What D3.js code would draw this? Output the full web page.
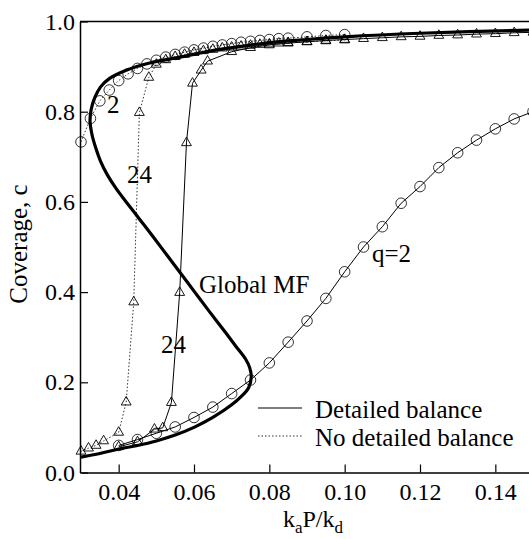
<!DOCTYPE html>
<html>
<head>
<meta charset="utf-8">
<script src="https://cdn.jsdelivr.net/npm/d3@7"></script>
<style>
  body { margin: 0; background: #fff; }
  text { font-family: "Liberation Serif", "Times New Roman", serif; fill: #000; }
</style>
</head>
<body>
<div id="chart"></div>
<script>
// Tick labels
const xTicks = [0.04, 0.06, 0.08, 0.10, 0.12, 0.14];
const yTicks = [0.0, 0.2, 0.4, 0.6, 0.8, 1.0];

// Global mean-field curve (S-shaped)
const mfP = [0.030, 0.035, 0.040, 0.045, 0.050, 0.055, 0.060, 0.065, 0.070, 0.0725, 0.0745, 0.0752, 0.0748, 0.0738, 0.0711, 0.0675, 0.0638, 0.0602, 0.0566, 0.0530, 0.0494, 0.0457, 0.0420, 0.0393, 0.0370, 0.0352, 0.0339, 0.0329, 0.0324, 0.0327, 0.0336, 0.0352, 0.0376, 0.042, 0.0482, 0.057, 0.066, 0.079, 0.090, 0.100, 0.120, 0.150];
const mfC = [0.034, 0.042, 0.052, 0.060, 0.070, 0.083, 0.100, 0.122, 0.150, 0.168, 0.188, 0.212, 0.232, 0.250, 0.280, 0.320, 0.360, 0.400, 0.440, 0.480, 0.520, 0.560, 0.600, 0.630, 0.660, 0.690, 0.720, 0.750, 0.780, 0.805, 0.830, 0.855, 0.874, 0.892, 0.908, 0.922, 0.937, 0.952, 0.960, 0.966, 0.974, 0.981];

// q=2, detailed balance (solid, circles)
const q2dbP = [0.040, 0.045, 0.050, 0.055, 0.060, 0.065, 0.070, 0.075, 0.080, 0.085, 0.090, 0.095, 0.100, 0.105, 0.110, 0.115, 0.120, 0.125, 0.130, 0.135, 0.140, 0.145, 0.150];
const q2dbC = [0.060, 0.073, 0.087, 0.101, 0.122, 0.145, 0.175, 0.205, 0.243, 0.289, 0.336, 0.386, 0.445, 0.500, 0.545, 0.597, 0.634, 0.676, 0.709, 0.737, 0.762, 0.784, 0.800];

// q=2, no detailed balance (dotted, circles)
const q2ndP = [0.030, 0.0325, 0.035, 0.0375, 0.040, 0.0425, 0.045, 0.0475, 0.050, 0.0525, 0.055, 0.0575, 0.060, 0.0625, 0.065, 0.0675, 0.070, 0.0725, 0.075, 0.0775, 0.080, 0.0825, 0.085, 0.090, 0.095, 0.100];
const q2ndC = [0.733, 0.785, 0.824, 0.848, 0.869, 0.884, 0.896, 0.906, 0.914, 0.921, 0.927, 0.932, 0.937, 0.941, 0.945, 0.948, 0.951, 0.954, 0.956, 0.958, 0.960, 0.962, 0.963, 0.966, 0.969, 0.971];

// q=24, detailed balance (solid, triangles)
const q24dbP = [0.040, 0.045, 0.0495, 0.0517, 0.054, 0.0562, 0.058, 0.0596, 0.0619, 0.0636, 0.070, 0.075, 0.080, 0.085, 0.090, 0.095, 0.100, 0.105, 0.110, 0.115, 0.120, 0.125, 0.130, 0.135, 0.140, 0.145, 0.150];
const q24dbC = [0.057, 0.068, 0.096, 0.099, 0.155, 0.399, 0.731, 0.863, 0.892, 0.912, 0.933, 0.942, 0.948, 0.952, 0.955, 0.958, 0.960, 0.962, 0.964, 0.966, 0.967, 0.969, 0.970, 0.972, 0.973, 0.975, 0.976];

// q=24, no detailed balance (dotted, triangles)
const q24ndP = [0.030, 0.032, 0.034, 0.036, 0.040, 0.042, 0.044, 0.0455, 0.048, 0.050, 0.0525, 0.055, 0.0575, 0.060, 0.0625, 0.065, 0.0675, 0.070, 0.0725, 0.075, 0.0775, 0.080, 0.0825, 0.085, 0.090, 0.095, 0.100];
const q24ndC = [0.047, 0.054, 0.060, 0.070, 0.089, 0.156, 0.378, 0.798, 0.876, 0.905, 0.915, 0.922, 0.927, 0.931, 0.935, 0.938, 0.941, 0.943, 0.945, 0.947, 0.949, 0.950, 0.952, 0.953, 0.955, 0.957, 0.959];

const zip = (a, b) => a.map((v, i) => [v, b[i]]);

const width = 529, height = 539;
const svg = d3.select("#chart").append("svg")
    .attr("width", width)
    .attr("height", height);

const x = d3.scaleLinear().domain([0.03, 0.15]).range([81, 533]);
const y = d3.scaleLinear().domain([0, 1]).range([472.5, 21.5]);

const line = d3.line().x(d => x(d[0])).y(d => y(d[1]));

// Axes
const xAxis = svg.append("g")
    .attr("transform", `translate(0,${y(0)})`)
    .call(d3.axisBottom(x).tickValues(xTicks).tickFormat(d3.format(".2f"))
        .tickSizeInner(-8).tickSizeOuter(0).tickPadding(10));

const yAxis = svg.append("g")
    .attr("transform", `translate(${x(0.03) - 1},0)`)
    .call(d3.axisLeft(y).tickValues(yTicks).tickFormat(d3.format(".1f"))
        .tickSizeInner(-8).tickSizeOuter(0).tickPadding(5));

[xAxis, yAxis].forEach(a => {
    a.select(".domain").attr("stroke", "#000").attr("stroke-width", 1.5);
    a.selectAll(".tick line").attr("stroke", "#000").attr("stroke-width", 1.2);
    a.selectAll(".tick text").style("font-size", "24px")
        .style("font-family", '"Liberation Serif", serif');
});

// top frame
svg.append("line")
    .attr("x1", x(0.03) - 1).attr("x2", width)
    .attr("y1", y(1)).attr("y2", y(1))
    .attr("stroke", "#000").attr("stroke-width", 1.5);

// Lines
function drawSeries(data, dotted, width) {
    svg.append("path")
        .datum(data)
        .attr("fill", "none")
        .attr("stroke", dotted ? "#333" : "#000")
        .attr("stroke-width", width)
        .attr("stroke-dasharray", dotted ? "1.5,2" : null)
        .attr("d", line);
}

function drawCircles(data) {
    svg.append("g").selectAll("circle")
        .data(data)
        .enter().append("circle")
        .attr("cx", d => x(d[0]))
        .attr("cy", d => y(d[1]))
        .attr("r", 5.3)
        .attr("fill", "none")
        .attr("stroke", "#000")
        .attr("stroke-width", 0.8);
}

function drawTriangles(data) {
    const tri = d3.symbol(d3.symbolTriangle, 42);
    svg.append("g").selectAll("path")
        .data(data)
        .enter().append("path")
        .attr("transform", d => `translate(${x(d[0])},${y(d[1])})`)
        .attr("d", tri)
        .attr("fill", "none")
        .attr("stroke", "#000")
        .attr("stroke-width", 0.9);
}

const q2db = zip(q2dbP, q2dbC);
const q2nd = zip(q2ndP, q2ndC);
const q24db = zip(q24dbP, q24dbC);
const q24nd = zip(q24ndP, q24ndC);

drawSeries(q24nd, true, 1);
drawSeries(q2nd, true, 1);
drawSeries(q24db, false, 1);
drawSeries(q2db, false, 1);

svg.append("path")
    .datum(zip(mfP, mfC))
    .attr("fill", "none")
    .attr("stroke", "#000")
    .attr("stroke-width", 3.2)
    .attr("stroke-linejoin", "round")
    .attr("d", d3.line().x(d => x(d[0])).y(d => y(d[1])).curve(d3.curveCatmullRom));

drawTriangles(q24nd);
drawTriangles(q24db);
drawCircles(q2nd);
drawCircles(q2db);

// Curve labels
const labels = [
    { t: "2", x: 107, y: 113 },
    { t: "24", x: 127, y: 183 },
    { t: "24", x: 161, y: 353 },
    { t: "Global MF", x: 199, y: 293 },
    { t: "q=2", x: 372, y: 262 }
];
svg.append("g").selectAll("text")
    .data(labels)
    .enter().append("text")
    .attr("x", d => d.x).attr("y", d => d.y)
    .style("font-size", "25px")
    .text(d => d.t);

// Legend
const legend = [
    { t: "Detailed balance", dotted: false, y: 408 },
    { t: "No detailed balance", dotted: true, y: 436 }
];
const lg = svg.append("g");
lg.selectAll("line")
    .data(legend)
    .enter().append("line")
    .attr("x1", 258).attr("x2", 302)
    .attr("y1", d => d.y).attr("y2", d => d.y)
    .attr("stroke", d => d.dotted ? "#333" : "#000")
    .attr("stroke-width", 1.2)
    .attr("stroke-dasharray", d => d.dotted ? "1.5,2" : null);
lg.selectAll("text")
    .data(legend)
    .enter().append("text")
    .attr("x", 315).attr("y", d => d.y + 10)
    .style("font-size", "25px")
    .text(d => d.t);

// Axis titles
const xt = svg.append("text")
    .attr("x", 313).attr("y", 527)
    .attr("text-anchor", "middle")
    .style("font-size", "24px");
xt.append("tspan").text("k");
xt.append("tspan").attr("dy", 6).style("font-size", "17px").text("a");
xt.append("tspan").attr("dy", -6).text("P/k");
xt.append("tspan").attr("dy", 6).style("font-size", "17px").text("d");

svg.append("text")
    .attr("transform", `translate(27,${(y(0) + y(1)) / 2 - 3}) rotate(-90)`)
    .attr("text-anchor", "middle")
    .style("font-size", "25px")
    .text("Coverage, c");
</script>
</body>
</html>
